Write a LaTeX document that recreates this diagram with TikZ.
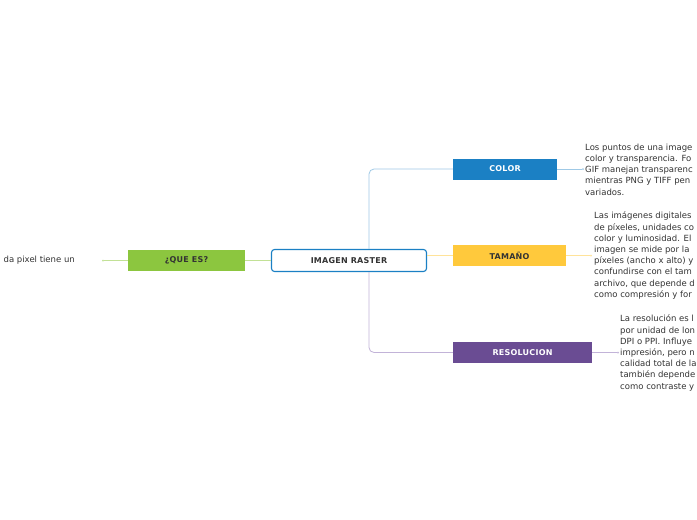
\documentclass[tikz,border=0pt]{standalone}
\usepackage{fontspec}
\setmainfont{DejaVu Sans}
\newfontfamily\labelfont[LetterSpace=3]{DejaVu Sans}
\definecolor{cblue}{HTML}{1B80C4}
\definecolor{lblue}{HTML}{9FC9E6}
\definecolor{cyel}{HTML}{FFC93C}
\definecolor{lyel}{HTML}{FFE39A}
\definecolor{cpurp}{HTML}{6A4C93}
\definecolor{lpurp}{HTML}{C2B3D8}
\definecolor{cgreen}{HTML}{8CC63F}
\definecolor{lgreen}{HTML}{C2E196}
\definecolor{ctext}{HTML}{333333}

\begin{document}
\begin{tikzpicture}[x=1pt, y=-1pt, font=\fontsize{8.5}{11.2}\selectfont, text=ctext,
  topic/.style={minimum height=21pt, inner sep=0pt, font=\labelfont\fontsize{8}{9}\selectfont\bfseries},
  mainn/.style={topic, draw=cblue, line width=1.1pt, fill=white, rounded corners=3pt, minimum width=155pt, minimum height=22pt},
  desc/.style={anchor=west, align=left, inner sep=0pt},
  br/.style={line width=0.8pt},
  dot/.style={circle, fill, inner sep=0pt, minimum size=2pt}]
\useasboundingbox[fill=white] (0,0) rectangle (697,520);
% central idea
\node[mainn] (root) at (349,260.5) {IMAGEN RASTER};
% main topics
\node[topic, fill=cgreen, minimum width=117pt] (ques) at (186.5,260.5) {¿QUE ES?};
\node[topic, fill=cblue, text=white, minimum width=104pt] (color) at (505,169) {COLOR};
\node[topic, fill=cyel, minimum width=113pt] (tam) at (509.5,255.5) {TAMAÑO};
\node[topic, fill=cpurp, text=white, minimum width=139pt] (res) at (522.5,352.5) {RESOLUCION};
% end points of the subtopic lines
\node[dot, lgreen] (dq) at (103,260.5) {};
\node[dot, lblue] (dc) at (583,169) {};
\node[dot, lyel] (dt) at (591,255.5) {};
\node[dot, lpurp] (dr) at (618,352.5) {};
% subtopic texts
\node[anchor=east, inner sep=0pt] (tq) at (75,260.5) {da pixel tiene un};
\node[desc] (tc) at (585,169.5) {Los puntos de una image\\color y transparencia. Fo\\GIF manejan transparenc\\mientras PNG y TIFF pen\\variados.};
\node[desc] (tt) at (594,255.5) {Las imágenes digitales\\de píxeles, unidades co\\color y luminosidad. El\\imagen se mide por la\\píxeles (ancho x alto) y\\confundirse con el tam\\archivo, que depende d\\como compresión y for};
\node[desc] (tr) at (620,353) {La resolución es l\\por unidad de lon\\DPI o PPI. Influye\\impresión, pero n\\calidad total de la\\también depende\\como contraste y};
% branches
\draw[br, lblue, rounded corners=5pt] ([xshift=20pt]root.north) |- (color.west);
\draw[br, lpurp, rounded corners=5pt] ([xshift=20pt]root.south) |- (res.west);
\draw[br, lyel] (root.east |- tam.west) -- (tam.west);
\draw[br, lgreen] (root.west) -- (ques.east);
\foreach \a/\b/\c in {ques.west/dq/lgreen, color.east/dc/lblue, tam.east/dt/lyel, res.east/dr/lpurp}
  \draw[br, \c] (\a) -- (\b);
\end{tikzpicture}
\end{document}
